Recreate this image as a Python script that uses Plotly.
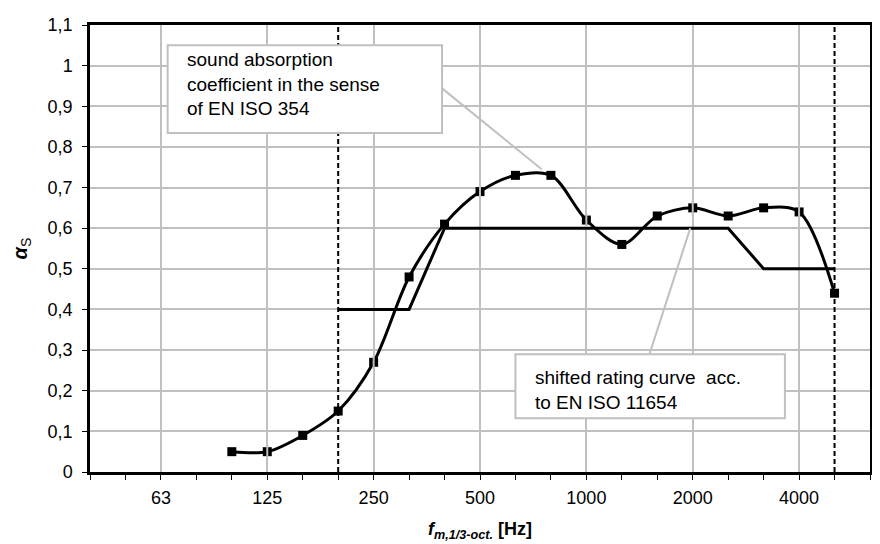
import plotly.graph_objects as go

# 1/3-octave band centre frequencies (category axis)
bands = ["40", "50", "63", "80", "100", "125", "160", "200", "250", "315", "400",
         "500", "630", "800", "1000", "1250", "1600", "2000", "2500", "3150", "4000",
         "5000", "6300"]
tick_labels = ["63", "125", "250", "500", "1000", "2000", "4000"]

# measured sound absorption coefficient (EN ISO 354)
alpha_freqs = ["100", "125", "160", "200", "250", "315", "400", "500", "630", "800",
               "1000", "1250", "1600", "2000", "2500", "3150", "4000", "5000"]
alpha_values = [0.05, 0.05, 0.09, 0.15, 0.27, 0.48, 0.61, 0.69, 0.73, 0.73,
                0.62, 0.56, 0.63, 0.65, 0.63, 0.65, 0.64, 0.44]

# shifted rating curve (EN ISO 11654)
ref_freqs = ["200", "250", "315", "400", "500", "630", "800", "1000", "1250",
             "1600", "2000", "2500", "3150", "4000", "5000"]
ref_values = [0.40, 0.40, 0.40, 0.60, 0.60, 0.60, 0.60, 0.60, 0.60,
              0.60, 0.60, 0.60, 0.50, 0.50, 0.50]

# frequency range limits (dashed lines)
limit_freqs = ["200", "5000"]

y_tick_vals = [0, 0.1, 0.2, 0.3, 0.4, 0.5, 0.6, 0.7, 0.8, 0.9, 1.0, 1.1]
y_tick_text = ["0", "0,1", "0,2", "0,3", "0,4", "0,5", "0,6", "0,7", "0,8", "0,9", "1", "1,1"]

idx = {b: i for i, b in enumerate(bands)}
ax = [idx[f] for f in alpha_freqs]
rx = [idx[f] for f in ref_freqs]
tick_pos = [idx[t] for t in tick_labels]

FONT = "Arial, Liberation Sans, sans-serif"
GRID = "#c0c0c0"

fig = go.Figure()

fig.add_trace(go.Scatter(
    x=rx, y=ref_values, mode="lines",
    line=dict(color="black", width=3), hoverinfo="skip", showlegend=False))

fig.add_trace(go.Scatter(
    x=ax, y=alpha_values, mode="lines+markers",
    line=dict(color="black", width=3, shape="spline", smoothing=0.9),
    marker=dict(symbol="square", size=9, color="black"),
    showlegend=False))

# grid line showing through markers that sit on labelled grid lines
gx = [x for x in ax if x in tick_pos]
gy = [alpha_values[ax.index(x)] for x in gx]
fig.add_trace(go.Scatter(
    x=gx, y=gy, mode="markers",
    marker=dict(symbol="line-ns", size=10, line=dict(color=GRID, width=2)),
    hoverinfo="skip", showlegend=False))

shapes = []
# vertical dashed limit lines
for f in limit_freqs:
    shapes.append(dict(type="line", xref="x", yref="y", x0=idx[f], x1=idx[f],
                       y0=0, y1=1.1, line=dict(color="black", width=2, dash="5px,3px"),
                       layer="above"))

# annotation boxes + leader lines
box1 = dict(x0=2.19, x1=9.93, y0=0.834, y1=1.05)
box2 = dict(x0=12.0, x1=19.6, y0=0.132, y1=0.29)
shapes.append(dict(type="line", xref="x", yref="y", x0=box1["x1"], y0=0.944,
                   x1=12.74, y1=0.745, line=dict(color=GRID, width=2), layer="above"))
shapes.append(dict(type="line", xref="x", yref="y", x0=15.78, y0=box2["y1"],
                   x1=idx["2000"] - 0.07, y1=0.60, line=dict(color=GRID, width=2), layer="above"))
for b in (box1, box2):
    shapes.append(dict(type="rect", xref="x", yref="y", **b,
                       fillcolor="white", line=dict(color=GRID, width=2), layer="above"))

annotations = [
    dict(x=box1["x0"] + 0.5, y=0.955, xref="x", yref="y", xanchor="left", yanchor="middle",
         align="left", showarrow=False,
         text="sound absorption<br>coefficient in the sense<br>of EN ISO 354",
         font=dict(family=FONT, size=19, color="black")),
    dict(x=box2["x0"] + 0.5, y=0.203, xref="x", yref="y", xanchor="left", yanchor="middle",
         align="left", showarrow=False,
         text="shifted rating curve  acc.<br>to EN ISO 11654",
         font=dict(family=FONT, size=19, color="black")),
]

# page body has an 8px margin in the browser, so the figure is sized to fit the window
fig.update_layout(
    width=872, height=536,
    margin=dict(l=82, r=7, t=10, b=70),
    paper_bgcolor="white", plot_bgcolor="white",
    font=dict(family=FONT, size=18, color="black"),
    shapes=shapes, annotations=annotations,
)

fig.update_xaxes(
    range=[0, len(bands) - 1],
    tickmode="array", tickvals=tick_pos, ticktext=tick_labels,
    ticks="outside", ticklen=5, tickcolor="black", tickwidth=1,
    ticklabelstandoff=3,
    minor=dict(tickmode="linear", tick0=0, dtick=1, ticks="outside", ticklen=5,
               tickcolor="black", tickwidth=1, showgrid=False),
    showgrid=True, gridcolor=GRID, gridwidth=2,
    showline=True, linecolor="black", linewidth=2.5, mirror=True,
    zeroline=False,
    title=dict(text="<b><i>f</i><sub><i>m,1/3-oct.</i></sub> [Hz]</b>",
               font=dict(family=FONT, size=18), standoff=16),
)
fig.update_yaxes(
    range=[0, 1.1],
    tickmode="array", tickvals=y_tick_vals, ticktext=y_tick_text,
    ticks="outside", ticklen=5, tickcolor="black", tickwidth=1,
    ticklabelstandoff=6,
    showgrid=True, gridcolor=GRID, gridwidth=2,
    showline=True, linecolor="black", linewidth=2.5, mirror=True,
    zeroline=False,
    title=dict(text="<b><i>α</i></b><sub>S</sub>",
               font=dict(family=FONT, size=20), standoff=15),
)

fig.write_html("out.html")
